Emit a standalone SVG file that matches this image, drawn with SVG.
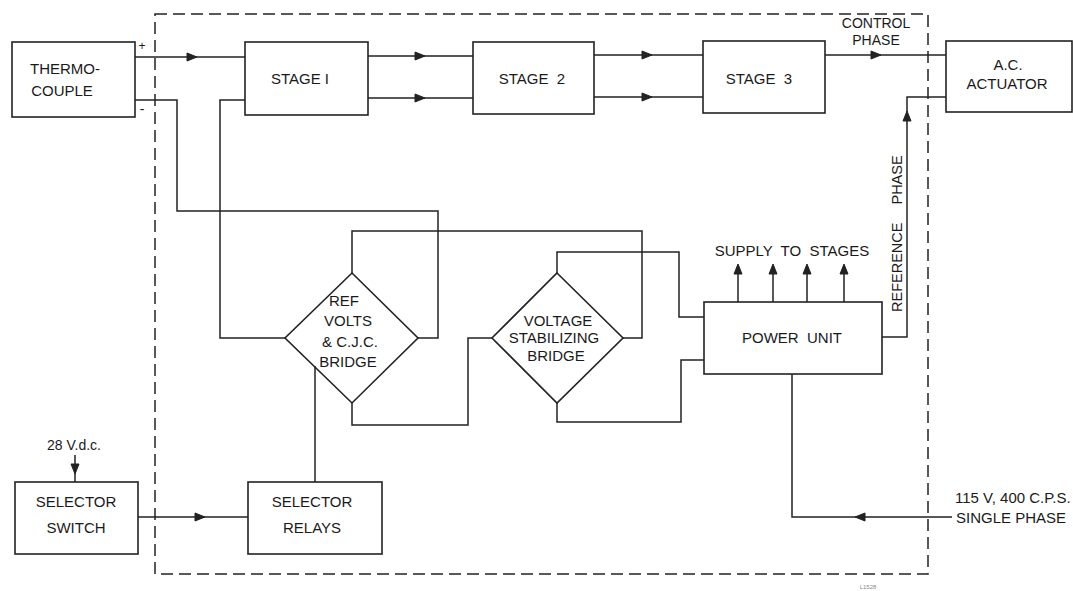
<svg xmlns="http://www.w3.org/2000/svg" xmlns:xlink="http://www.w3.org/1999/xlink" width="1073" height="591" viewBox="0 0 1073 591">
<style>
.box{fill:none;stroke:#222;stroke-width:1.6}
.ln{fill:none;stroke:#222;stroke-width:1.5}
.dash{fill:none;stroke:#222;stroke-width:1.5;stroke-dasharray:12 6}
.t{font-family:"Liberation Sans","DejaVu Sans",sans-serif;font-size:15px;fill:#1a1a1a;text-anchor:middle}
.ah{fill:#222;stroke:#222;stroke-width:1}
</style>
<defs>
<path id="ah" d="M-5,-4 L5,0 L-5,4 Z"/>
</defs>
<rect width="1073" height="591" fill="#fff"/>
<rect class="dash" x="155" y="14" width="773" height="560"/>

<g id="thermocouple">
<rect class="box" x="12" y="42" width="123" height="75"/>
<text class="t" x="65" y="74">THERMO-</text>
<text class="t" x="62" y="96">COUPLE</text>
<text class="t" x="142" y="50" style="font-size:12px">+</text>
<text class="t" x="142" y="114" style="font-size:14px">-</text>
</g>
<g id="stage1">
<rect class="box" x="245" y="42" width="123" height="73"/>
<text class="t" x="300" y="84">STAGE I</text>
</g>
<g id="stage2">
<rect class="box" x="473" y="42" width="121" height="72"/>
<text class="t" x="532" y="84" xml:space="preserve">STAGE  2</text>
</g>
<g id="stage3">
<rect class="box" x="703" y="41" width="122" height="72"/>
<text class="t" x="759" y="84" xml:space="preserve">STAGE  3</text>
</g>
<g id="actuator">
<rect class="box" x="946" y="41" width="126" height="71"/>
<text class="t" x="1008" y="70">A.C.</text>
<text class="t" x="1007" y="89">ACTUATOR</text>
</g>
<g id="ref-bridge">
<polygon class="box" points="352,273 418,338 352,403 285,338"/>
<text class="t" x="344" y="306">REF</text>
<text class="t" x="348" y="326">VOLTS</text>
<text class="t" x="350" y="347">&amp; C.J.C.</text>
<text class="t" x="348" y="367">BRIDGE</text>
</g>
<g id="voltage-bridge">
<polygon class="box" points="557,273 623,338 557,403 492,338"/>
<text class="t" x="558" y="326">VOLTAGE</text>
<text class="t" x="554" y="343">STABILIZING</text>
<text class="t" x="556" y="361">BRIDGE</text>
</g>
<g id="power-unit">
<rect class="box" x="704" y="302" width="178" height="72"/>
<text class="t" x="792" y="343" xml:space="preserve">POWER  UNIT</text>
<text class="t" x="792" y="256" xml:space="preserve">SUPPLY  TO  STAGES</text>
</g>
<g id="selector-switch">
<rect class="box" x="15" y="482" width="123" height="72"/>
<text class="t" x="76" y="507">SELECTOR</text>
<text class="t" x="76" y="533">SWITCH</text>
<text class="t" x="74" y="450" style="font-size:14px">28 V.d.c.</text>
</g>
<g id="selector-relays">
<rect class="box" x="248" y="482" width="134" height="72"/>
<text class="t" x="312" y="507">SELECTOR</text>
<text class="t" x="312" y="533">RELAYS</text>
</g>
<g id="labels">
<text class="t" x="876" y="28" style="font-size:14px">CONTROL</text>
<text class="t" x="876" y="45" style="font-size:14px">PHASE</text>
<text class="t" x="902" y="312" transform="rotate(-90 902 312)" style="text-anchor:start;font-size:14.5px;word-spacing:14px">REFERENCE PHASE</text>
<text class="t" x="955" y="503" style="text-anchor:start">115 V, 400 C.P.S.</text>
<text class="t" x="956" y="523" style="text-anchor:start">SINGLE PHASE</text>
<text class="t" x="868" y="589" style="font-size:6px;fill:#888">L1528</text>
</g>

<g id="connectors">
<path class="ln" d="M135,57 H245"/>
<path class="ln" d="M135,100 H177 V211 H438 V338 H418"/>
<path class="ln" d="M245,100 H220 V338 H285"/>
<path class="ln" d="M368,56 H473 M368,98 H473"/>
<path class="ln" d="M594,55 H703 M594,97 H703"/>
<path class="ln" d="M825,55 H946"/>
<path class="ln" d="M882,337 H907 V97 H946"/>
<path class="ln" d="M352,273 V231 H642 V338 H623"/>
<path class="ln" d="M557,273 V252 H679 V317 H704"/>
<path class="ln" d="M352,403 V425 H468 V338 H492"/>
<path class="ln" d="M557,403 V422 H681 V360 H704"/>
<path class="ln" d="M738,302 V266 M773,302 V266 M807,302 V266 M844,302 V266"/>
<path class="ln" d="M75,455 V482"/>
<path class="ln" d="M138,517 H248"/>
<path class="ln" d="M315,482 V366"/>
<path class="ln" d="M792,374 V517 H952"/>
<use xlink:href="#ah" class="ah" transform="translate(192,57)"/>
<use xlink:href="#ah" class="ah" transform="translate(420,56)"/>
<use xlink:href="#ah" class="ah" transform="translate(420,98)"/>
<use xlink:href="#ah" class="ah" transform="translate(647,55)"/>
<use xlink:href="#ah" class="ah" transform="translate(647,97)"/>
<use xlink:href="#ah" class="ah" transform="translate(876,55)"/>
<use xlink:href="#ah" class="ah" transform="translate(907,116) rotate(-90)"/>
<use xlink:href="#ah" class="ah" transform="translate(738,269) rotate(-90)"/>
<use xlink:href="#ah" class="ah" transform="translate(773,269) rotate(-90)"/>
<use xlink:href="#ah" class="ah" transform="translate(807,269) rotate(-90)"/>
<use xlink:href="#ah" class="ah" transform="translate(844,269) rotate(-90)"/>
<use xlink:href="#ah" class="ah" transform="translate(75,469) rotate(90)"/>
<use xlink:href="#ah" class="ah" transform="translate(200,517)"/>
<use xlink:href="#ah" class="ah" transform="translate(860,517) rotate(180)"/>
</g>
</svg>
